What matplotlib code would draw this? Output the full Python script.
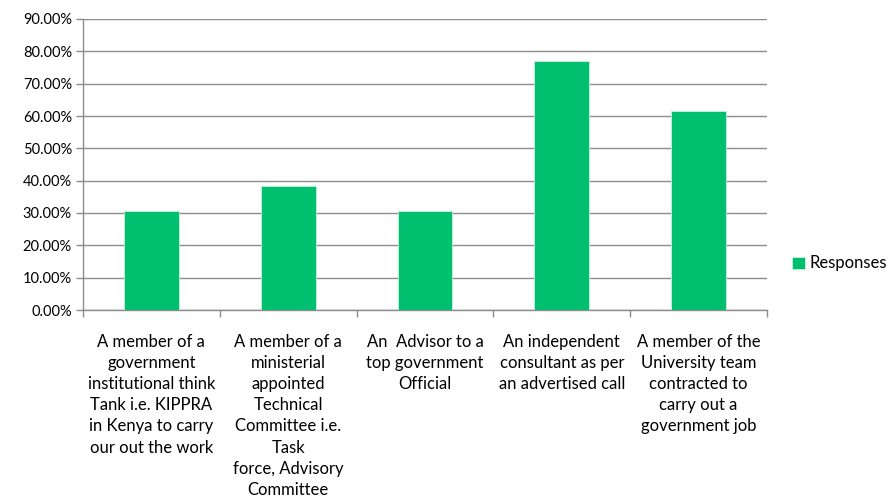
import matplotlib.pyplot as plt
from matplotlib.ticker import FuncFormatter, MultipleLocator

plt.rcParams['font.family'] = ['Lato', 'DejaVu Sans']

categories = [
    "A member of a\ngovernment\ninstitutional think\nTank i.e. KIPPRA\nin Kenya to carry\nour out the work",
    "A member of a\nministerial\nappointed\nTechnical\nCommittee i.e.\nTask\nforce, Advisory\nCommittee",
    "An  Advisor to a\ntop government\nOfficial",
    "An independent\nconsultant as per\nan advertised call",
    "A member of the\nUniversity team\ncontracted to\ncarry out a\ngovernment job",
]
responses = [30.77, 38.46, 30.77, 76.92, 61.54]

bar_color = '#00BF6F'
grid_color = '#8C8C8C'

fig = plt.figure(figsize=(8.91, 5.01), dpi=100)
ax = fig.add_axes([83 / 891, 1 - 310 / 501, 684 / 891, 291 / 501])

x = range(len(responses))
ax.bar(x, responses, width=0.4, color=bar_color, edgecolor='#C8F0DC', linewidth=0.6,
       label='Responses', zorder=3)

ax.set_xlim(-0.5, len(responses) - 0.5)
ax.set_ylim(0, 90)
ax.yaxis.set_major_locator(MultipleLocator(10))
ax.yaxis.set_major_formatter(FuncFormatter(lambda v, _: f"{v:.2f}%"))
ax.grid(axis='y', color=grid_color, linewidth=1.0, zorder=0)

for side in ['top', 'right']:
    ax.spines[side].set_visible(False)
for side in ['left', 'bottom']:
    ax.spines[side].set_color(grid_color)
    ax.spines[side].set_linewidth(1.0)

# ticks on category boundaries, labels drawn separately below
ax.set_xticks([i - 0.5 for i in range(len(responses) + 1)])
ax.set_xticklabels([])
ax.tick_params(axis='x', length=5, color=grid_color, width=1)
ax.tick_params(axis='y', length=5, color=grid_color, width=1, labelsize=10.5, pad=3)

for i, lab in enumerate(categories):
    ax.text(i, -7.3, lab, ha='center', va='top', fontsize=12, linespacing=1.4,
            transform=ax.transData, clip_on=False)

ax.legend(loc='center left', bbox_to_anchor=(1.015, 0.16), frameon=False,
          fontsize=12, handlelength=0.75, handleheight=0.75, handletextpad=0.3)

fig.savefig('out.png', dpi=100)
